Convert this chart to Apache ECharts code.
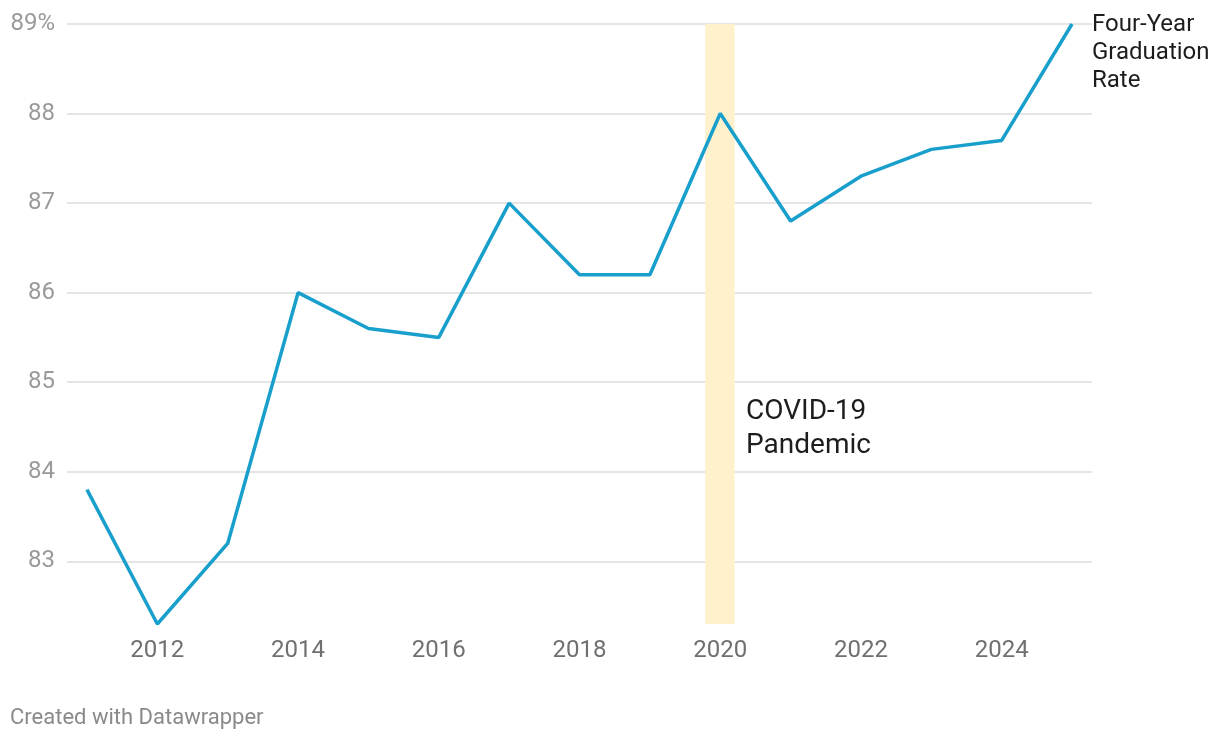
<!DOCTYPE html>
<html>
<head>
<meta charset="utf-8">
<script src="https://cdn.jsdelivr.net/npm/echarts@6/dist/echarts.min.js"></script>
<style>
html,body{margin:0;padding:0;background:#fff;}
#chart{width:1220px;height:740px;}
</style>
</head>
<body>
<div id="chart"></div>
<script>
const years = [2011,2012,2013,2014,2015,2016,2017,2018,2019,2020,2021,2022,2023,2024,2025];
const rates = [83.8,82.3,83.2,86.0,85.6,85.5,87.0,86.2,86.2,88.0,86.8,87.3,87.6,87.7,89.0];
const xTicks = [2012,2014,2016,2018,2020,2022,2024];
const yTicks = [83,84,85,86,87,88,89];
const band = [2019.785, 2020.205];
const seriesName = 'Four-Year\nGraduation\nRate';
const bandLabel = 'COVID-19\nPandemic';
const credit = 'Created with Datawrapper';

const chart = echarts.init(document.getElementById('chart'), null, {renderer:'canvas'});
const font = 'Roboto, "Noto Sans", sans-serif';
chart.setOption({
  animation: false,
  backgroundColor: '#ffffff',
  textStyle: {fontFamily: font},
  title: {
    text: credit, left: 5, bottom: 6,
    textStyle: {fontFamily: font, fontSize: 22, fontWeight: 'normal', color: '#8a8a8a'}
  },
  grid: {left: 67, right: 128, top: 24, bottom: 116},
  xAxis: {
    type: 'value',
    min: 2010.716, max: 2025.284,
    axisLine: {show: false},
    axisTick: {show: false, customValues: xTicks},
    splitLine: {show: false},
    axisLabel: {
      customValues: xTicks, margin: 15,
      fontSize: 24, color: '#707070', fontFamily: font,
      formatter: v => String(v)
    }
  },
  yAxis: {
    type: 'value',
    min: Math.min(...rates), max: 89,
    axisLine: {show: false},
    axisTick: {show: false, customValues: yTicks},
    splitLine: {show: true, lineStyle: {color: '#e5e5e5', width: 2}},
    axisLabel: {
      customValues: yTicks, margin: 12,
      fontSize: 24, color: '#9a9a9a', fontFamily: font,
      formatter: v => v === 89 ? v + '%' : String(v)
    }
  },
  series: [
    {
      type: 'line', z: -1, data: [],
      silent: true,
      markArea: {
        silent: true,
        itemStyle: {color: '#fff1cc'},
        label: {
          show: true, position: [41, 371],
          formatter: bandLabel,
          fontSize: 28, lineHeight: 34, color: '#1d1d1d', fontFamily: font,
          align: 'left', verticalAlign: 'top'
        },
        data: [[{xAxis: band[0]}, {xAxis: band[1]}]]
      }
    },
    {
      type: 'line', name: seriesName,
      data: years.map((y, i) => [y, rates[i]]),
      showSymbol: false, symbol: 'none',
      lineStyle: {color: '#189fcc', width: 3.5},
      endLabel: {
        show: true, formatter: seriesName,
        fontSize: 24, lineHeight: 28, color: '#1d1d1d', fontFamily: font,
        align: 'left', verticalAlign: 'top', distance: 20, offset: [0, -13]
      }
    }
  ]
});
</script>
</body>
</html>
